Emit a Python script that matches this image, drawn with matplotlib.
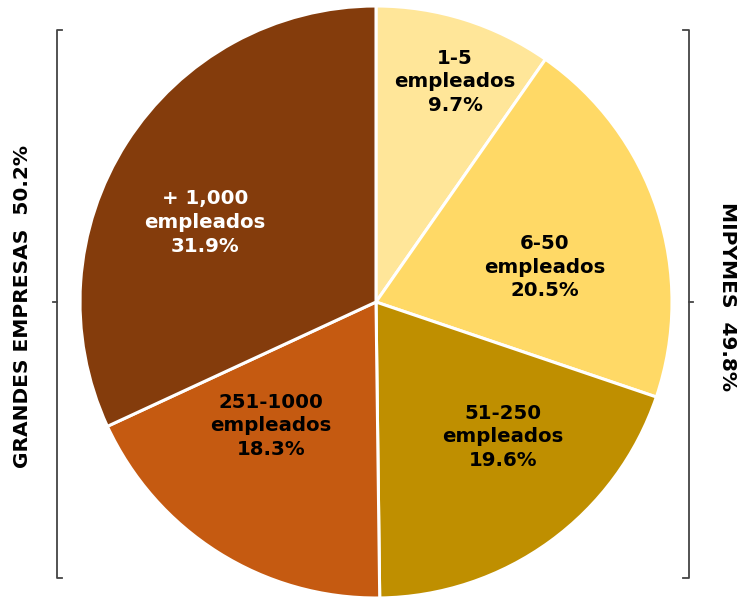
import numpy as np
import matplotlib
matplotlib.use("Agg")
import matplotlib.pyplot as plt

categories = ["1-5\nempleados", "6-50\nempleados", "51-250\nempleados",
              "251-1000\nempleados", "+ 1,000\nempleados"]
values = [9.7, 20.5, 19.6, 18.3, 31.9]
colors = ["#FFE699", "#FFD966", "#BF8F00", "#C55A11", "#843C0C"]
text_colors = ["black", "black", "black", "black", "white"]
label_dist = [0.79, 0.583, 0.626, 0.549, 0.638]
label_ang_shift = [-2.3, -6.5, 7.3, -8.1, 7.6]  # degrees, counter-clockwise
group_left = "GRANDES EMPRESAS  50.2%"
group_right = "MIPYMES  49.8%"

W, H = 739, 597
fig = plt.figure(figsize=(W / 100, H / 100), dpi=100)
cx, cy, r = 376, 302, 296
ax = fig.add_axes([(cx - r) / W, (H - cy - r) / H, 2 * r / W, 2 * r / H])
wedges, _ = ax.pie(values, colors=colors, startangle=90, counterclock=False,
                   wedgeprops=dict(edgecolor="white", linewidth=2.2))
ax.set_xlim(-1, 1)
ax.set_ylim(-1, 1)
ax.set_aspect("equal")
ax.axis("off")

for w, cat, v, tc, d, sh in zip(wedges, categories, values, text_colors,
                                label_dist, label_ang_shift):
    ang = np.deg2rad((w.theta1 + w.theta2) / 2 + sh)
    x, y = d * np.cos(ang), d * np.sin(ang)
    ax.text(x, y, f"{cat}\n{v:.1f}%", ha="center", va="center",
            color=tc, fontsize=14.2, fontweight="bold", family="DejaVu Sans",
            linespacing=1.32)

def px(x, y):
    return x / W, 1 - y / H

bc = "#444444"
top, bot, mid = 30, 578, 302
xl = 57
fig.add_artist(plt.Line2D(*zip(px(62, top), px(xl, top), px(xl, bot), px(62, bot)),
                          color=bc, lw=1.3, transform=fig.transFigure))
fig.add_artist(plt.Line2D(*zip(px(53, mid), px(xl, mid)), color=bc, lw=1.3,
                          transform=fig.transFigure))
xr = 689
fig.add_artist(plt.Line2D(*zip(px(683, top), px(xr, top), px(xr, bot), px(683, bot)),
                          color=bc, lw=1.3, transform=fig.transFigure))
fig.add_artist(plt.Line2D(*zip(px(xr, mid), px(693, mid)), color=bc, lw=1.3,
                          transform=fig.transFigure))

fig.text(*px(23, 307), group_left, rotation=90, ha="center", va="center",
         fontsize=14.5, fontweight="bold", color="black")
fig.text(*px(727, 297), group_right, rotation=-90, ha="center", va="center",
         fontsize=14.5, fontweight="bold", color="black")

fig.savefig("out.png", dpi=100, facecolor="white")
